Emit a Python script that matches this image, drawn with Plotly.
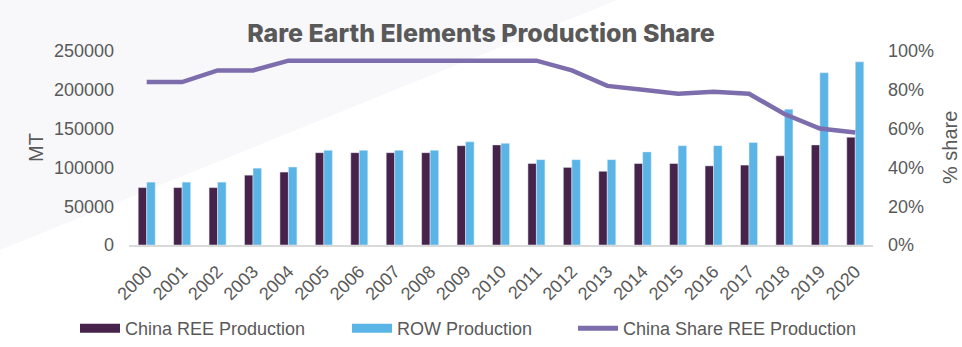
import plotly.graph_objects as go

years = [str(y) for y in range(2000, 2021)]
china_prod = [74000, 74000, 74000, 90000, 94000, 119000, 119000, 119000, 119000, 128000,
              129000, 105000, 100000, 95000, 105000, 105000, 102000, 103000, 115000, 129000, 139000]
row_prod = [81000, 81000, 81000, 99000, 100500, 122000, 122000, 122000, 122000, 133000,
            131000, 110000, 110000, 110000, 120000, 128000, 128000, 132000, 175000, 222000, 236000]
china_share = [0.84, 0.84, 0.90, 0.90, 0.95, 0.95, 0.95, 0.95, 0.95, 0.95,
               0.95, 0.95, 0.90, 0.82, 0.80, 0.78, 0.79, 0.78, 0.675, 0.60, 0.58]
left_ticks = [0, 50000, 100000, 150000, 200000, 250000]
right_ticks = [0, 0.2, 0.4, 0.6, 0.8, 1.0]

C_CHINA = "#47234B"
C_ROW = "#5AB4E5"
C_SHARE = "#7D6DAD"
TXT = "#595959"

W, H = 962, 347
L, R, T, B = 129, 89, 51, 102
PW, PH = W - L - R, H - T - B

def px2x(px):
    return (px - L) / PW

def py2y(py):
    return (H - B - py) / PH

fig = go.Figure()
fig.add_trace(go.Bar(x=years, y=china_prod, marker_color=C_CHINA, name="China REE Production",
                     showlegend=False))
fig.add_trace(go.Bar(x=years, y=row_prod, marker_color=C_ROW, name="ROW Production",
                     showlegend=False))
fig.add_trace(go.Scatter(x=years, y=china_share, yaxis="y2", mode="lines",
                         line=dict(color=C_SHARE, width=4.5), name="China Share REE Production",
                         showlegend=False))

# legend entries
leg_items = [("China REE Production", C_CHINA, 9, "legend", 75),
             ("ROW Production", C_ROW, 9, "legend2", 347),
             ("China Share REE Production", C_SHARE, 5, "legend3", 573)]
for name, col, w, lg, _ in leg_items:
    fig.add_trace(go.Scatter(x=[None], y=[None], mode="lines", line=dict(color=col, width=w),
                             name=name, legend=lg, showlegend=True))

legfont = dict(family="Liberation Sans, Arial", size=18, color=TXT)
for name, col, w, lg, xpx in leg_items:
    fig.update_layout({lg: dict(x=px2x(xpx), y=py2y(328.5), xanchor="left", yanchor="middle",
                                orientation="h", font=legfont, bgcolor="rgba(0,0,0,0)",
                                itemwidth=40, tracegroupgap=0)})

fig.add_shape(type="path", xref="paper", yref="paper", layer="below",
              path=f"M {px2x(0)} {py2y(0)} L {px2x(617)} {py2y(0)} L {px2x(0)} {py2y(250)} Z",
              fillcolor="#F8F8FB", line=dict(width=0))

fig.update_layout(
    width=W, height=H,
    margin=dict(l=L, r=R, t=T, b=B, autoexpand=False),
    paper_bgcolor="white", plot_bgcolor="rgba(0,0,0,0)",
    barmode="group", bargap=0.52, bargroupgap=0,
    font=dict(family="Liberation Sans, Arial", size=18, color=TXT),
    title=dict(text="Rare Earth Elements Production Share", x=0.5, xref="container",
               xanchor="center", y=1 - 33 / H, yanchor="middle",
               font=dict(family="Inter", size=25, weight=800, color=TXT)),
    xaxis=dict(type="category", tickangle=-45, showline=True, linecolor="#D9D9D9", linewidth=2,
               showgrid=False, ticks="", automargin=False, ticklabelstandoff=7,
               tickfont=dict(size=18, color=TXT)),
    yaxis=dict(range=[0, 250000], tickvals=left_ticks, ticktext=[str(v) for v in left_ticks],
               showgrid=False, zeroline=False, ticks="", ticklabelstandoff=14, automargin=False,
               tickfont=dict(size=18, color=TXT)),
    yaxis2=dict(range=[0, 1], overlaying="y", side="right", tickvals=right_ticks,
                ticktext=[f"{int(v*100)}%" for v in right_ticks], showgrid=False, zeroline=False,
                ticks="", ticklabelstandoff=14, automargin=False, tickfont=dict(size=18, color=TXT)),
    annotations=[
        dict(text="MT", x=0, xref="paper", xshift=-93, y=0.5, yref="paper", textangle=-90,
             showarrow=False, xanchor="center", yanchor="middle",
             font=dict(size=20, color=TXT)),
        dict(text="% share", x=1, xref="paper", xshift=77, y=0.5, yref="paper", textangle=-90,
             showarrow=False, xanchor="center", yanchor="middle",
             font=dict(size=20, color=TXT)),
    ],
)

fig.write_html("out.html")
